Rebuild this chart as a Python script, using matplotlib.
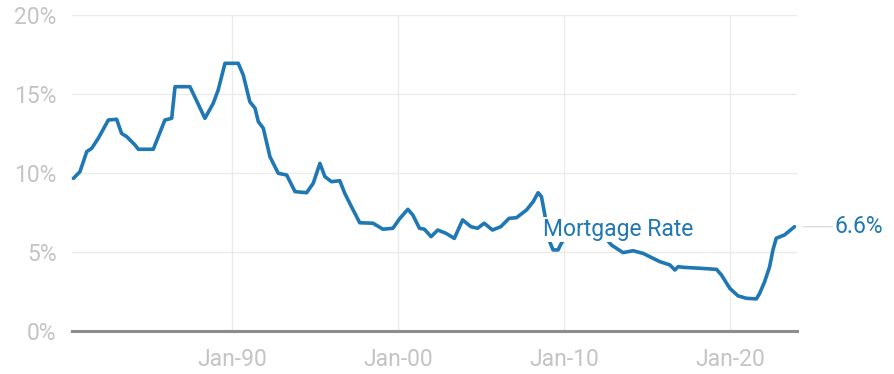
import matplotlib
matplotlib.use("Agg")
import matplotlib.pyplot as plt

plt.rcParams["font.family"] = ["Roboto", "DejaVu Sans"]

# 30-year fixed mortgage rate, %, by fractional year
years = [1980.45, 1980.84, 1981.25, 1981.55, 1981.95, 1982.55, 1983.05, 1983.35,
         1983.66, 1983.96, 1984.16, 1984.36, 1985.26, 1985.96, 1986.37, 1986.57,
         1987.47, 1988.37, 1988.87, 1989.17, 1989.58, 1990.38, 1990.68, 1991.08,
         1991.39, 1991.59, 1991.89, 1992.29, 1992.79, 1993.30, 1993.80, 1994.50,
         1994.90, 1995.30, 1995.60, 1996.00, 1996.50, 1996.80, 1997.20, 1997.70,
         1998.50, 1999.10, 1999.70, 2000.10, 2000.60, 2000.90, 2001.30, 2001.60,
         2002.00, 2002.40, 2002.90, 2003.40, 2003.90, 2004.40, 2004.80, 2005.20,
         2005.70, 2006.20, 2006.70, 2007.15, 2007.75, 2008.15, 2008.45, 2008.65,
         2008.80, 2009.15, 2009.35, 2009.65, 2009.85, 2010.20, 2011.00, 2012.00,
         2012.50, 2012.87, 2013.17, 2013.57, 2014.17, 2014.78, 2015.18, 2015.78,
         2016.39, 2016.69, 2016.89, 2017.19, 2018.19, 2019.20, 2019.50, 2020.00,
         2020.50, 2021.00, 2021.60, 2021.80, 2022.10, 2022.40, 2022.60, 2022.80,
         2023.30, 2023.90]
rates = [9.66, 10.08, 11.35, 11.56, 12.20, 13.35, 13.40, 12.50,
         12.30, 11.98, 11.77, 11.50, 11.50, 13.35, 13.46, 15.46,
         15.46, 13.46, 14.40, 15.25, 16.94, 16.94, 16.20, 14.50,
         14.10, 13.25, 12.83, 11.03, 9.98, 9.87, 8.82, 8.75,
         9.35, 10.61, 9.77, 9.45, 9.51, 8.71, 7.87, 6.85,
         6.82, 6.44, 6.50, 7.10, 7.70, 7.34, 6.50, 6.44,
         5.97, 6.39, 6.18, 5.86, 7.03, 6.60, 6.50, 6.82,
         6.39, 6.60, 7.13, 7.17, 7.66, 8.18, 8.75, 8.50,
         7.66, 5.65, 5.13, 5.13, 5.55, 6.10, 6.20, 6.10,
         5.90, 5.44, 5.23, 4.96, 5.08, 4.91, 4.70, 4.39,
         4.18, 3.86, 4.07, 4.03, 3.97, 3.90, 3.54, 2.70,
         2.22, 2.07, 2.03, 2.38, 3.12, 4.07, 5.13, 5.87,
         6.08, 6.60]

x_ticks = [1990, 2000, 2010, 2020]
x_tick_labels = ["Jan-90", "Jan-00", "Jan-10", "Jan-20"]
y_ticks = [0, 5, 10, 15, 20]
y_tick_labels = ["0%", "5%", "10%", "15%", "20%"]
series_label = "Mortgage Rate"

line_color = "#1f77b4"
label_grey = "#c4c4c4"
font_size = 16.5

fig = plt.figure(figsize=(8.94, 3.74), dpi=100)
ax = fig.add_axes([0.0805, 0.115, 0.811, 0.845])

ax.plot(years, rates, color=line_color, lw=2.6, solid_joinstyle="round",
        solid_capstyle="round", zorder=3, clip_on=False)

ax.set_xlim(1980.36, 2024.05)
ax.set_ylim(0, 20)

ax.set_xticks(x_ticks)
ax.set_xticklabels(x_tick_labels)
ax.set_yticks(y_ticks)
ax.set_yticklabels(y_tick_labels)
ax.tick_params(axis="both", length=0, labelcolor=label_grey, labelsize=font_size)
ax.tick_params(axis="x", pad=12)
ax.tick_params(axis="y", pad=11)

ax.grid(True, color="#ebebeb", lw=1.0, zorder=0)
for s in ax.spines.values():
    s.set_visible(False)
ax.axhline(0, color="#8c8c8c", lw=2.2, zorder=2, clip_on=False)

# Series label sitting on the line with a white backing
ax.text(2008.72, 6.42, series_label, color=line_color, fontsize=font_size,
        ha="left", va="center", zorder=4,
        bbox=dict(boxstyle="square,pad=0.05", fc="white", ec="none"))

# End-of-line value label with a short connector
last_x, last_y = years[-1], rates[-1]
ax.annotate(f"{last_y:.1f}%", xy=(last_x, last_y), xytext=(29, 0),
            textcoords="offset points", color=line_color, fontsize=font_size,
            ha="left", va="center", annotation_clip=False,
            arrowprops=dict(arrowstyle="-", color="#dddddd", lw=1.0,
                            shrinkA=0, shrinkB=6))

fig.savefig("out.png", dpi=100, facecolor="white")
